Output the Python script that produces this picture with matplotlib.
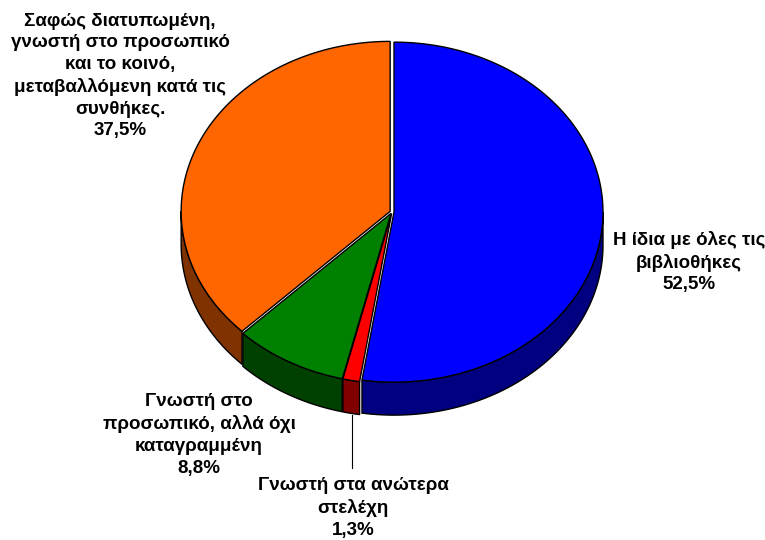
import numpy as np
import matplotlib
matplotlib.use("Agg")
from matplotlib import pyplot as plt
from matplotlib.patches import Polygon

# shares of answers, clockwise from 12 o'clock
labels = [
    "Η ίδια με όλες τις\nβιβλιοθήκες",
    "Γνωστή στα ανώτερα\nστελέχη",
    "Γνωστή στο\nπροσωπικό, αλλά όχι\nκαταγραμμένη",
    "Σαφώς διατυπωμένη,\nγνωστή στο προσωπικό\nκαι το κοινό,\nμεταβαλλόμενη κατά τις\nσυνθήκες.",
]
values = [52.5, 1.3, 8.8, 37.5]
top_colors = ["#0000FF", "#FF0000", "#008000", "#FF6600"]
side_colors = ["#000080", "#800000", "#004000", "#803300"]

# ellipse geometry in pixel coords
cx, cy = 392, 212
rx, ry = 209, 170
depth = 33
explode = 2.0

fig = plt.figure(figsize=(7.65, 5.4), dpi=100)
ax = fig.add_axes([0, 0, 1, 1])
ax.set_xlim(0, 765)
ax.set_ylim(540, 0)
ax.axis("off")

fracs = np.array(values) / np.sum(values)
ends = 90 - 360 * np.cumsum(fracs)
starts = np.concatenate([[90], ends[:-1]])


def rim(t, ox, oy, dz=0):
    r = np.radians(t)
    return np.column_stack([cx + ox + rx * np.cos(r), cy + oy - ry * np.sin(r) + dz])


slices = []
for s, e in zip(starts, ends):
    lo, hi = e, s  # ccw range
    mid = np.radians((lo + hi) / 2)
    ox = explode * np.cos(mid)
    oy = -explode * np.sin(mid) * ry / rx
    slices.append((lo, hi, ox, oy))

# side walls (front half only)
for (lo, hi, ox, oy), col in zip(slices, side_colors):
    for base in (-360, 0):
        a = max(lo, base - 180)
        b = min(hi, base)
        if b > a:
            t = np.linspace(a, b, 100)
            top = rim(t, ox, oy)
            bot = rim(t[::-1], ox, oy, depth)
            ax.add_patch(Polygon(np.vstack([top, bot]), closed=True,
                                 facecolor=col, edgecolor="black", lw=1))

# top faces
for (lo, hi, ox, oy), col in zip(slices, top_colors):
    t = np.linspace(lo, hi, 200)
    pts = np.vstack([[cx + ox, cy + oy], rim(t, ox, oy)])
    ax.add_patch(Polygon(pts, closed=True, facecolor=col,
                         edgecolor="black", lw=1))

pcts = [f"{v:.1f}".replace(".", ",") + "%" for v in values]
label_pos = [(689, 262), (353, 508), (199, 435), (120, 76)]
for lab, p, (x, y) in zip(labels, pcts, label_pos):
    ax.text(x, y, lab + "\n" + p, ha="center", va="center",
            fontsize=13.5, fontweight="bold", family="Liberation Sans",
            linespacing=1.36)

# leader line for the small slice
ax.plot([352, 352], [415, 468], color="black", lw=0.8)

fig.savefig("out.png", dpi=100)
